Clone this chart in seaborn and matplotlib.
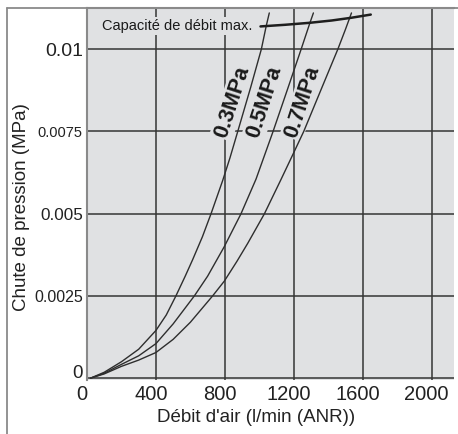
import numpy as np
import pandas as pd
import matplotlib
matplotlib.use('Agg')
import matplotlib.pyplot as plt
import matplotlib.transforms as mtransforms
from matplotlib.lines import Line2D
import seaborn as sns

# values
x_ticks = [0, 400, 800, 1200, 1600, 2000]
y_ticks = [0, 0.0025, 0.005, 0.0075, 0.01]
y_tick_labels = ['0', '0.0025', '0.005', '0.0075', '0.01']
y_tick_sizes = [13.5, 11.5, 12.3, 10.5, 14]

flow_03 = [20, 100, 200, 300, 400, 460, 516, 570, 613, 670, 720, 787, 830, 875, 950, 1012, 1040, 1058]
drop_03 = [0, 0.00018, 0.0005, 0.00088, 0.00145, 0.00192, 0.0025, 0.0031, 0.0036, 0.0043, 0.005,
           0.006, 0.0067, 0.0075, 0.00884, 0.01, 0.0107, 0.0111]

flow_05 = [20, 100, 200, 300, 400, 500, 623, 700, 797, 894, 981, 1080, 1165, 1243, 1292, 1314]
drop_05 = [0, 0.00015, 0.00042, 0.00068, 0.00105, 0.00165, 0.0025, 0.0031, 0.004, 0.005, 0.00605,
           0.0075, 0.0088, 0.01, 0.01077, 0.0111]

flow_07 = [20, 100, 200, 300, 400, 500, 600, 729, 797, 870, 933, 1030, 1127, 1195, 1258, 1360,
           1456, 1500, 1535]
drop_07 = [0, 0.00013, 0.00036, 0.00055, 0.00078, 0.00118, 0.0017, 0.0025, 0.00295, 0.00355,
           0.0041, 0.005, 0.00605, 0.0068, 0.0075, 0.00879, 0.01, 0.0106, 0.0111]

max_flow = [1007, 1150, 1292, 1420, 1530, 1647]
max_drop = [0.01069, 0.01074, 0.0108, 0.01087, 0.01095, 0.01105]

pressures = ['0.3MPa', '0.5MPa', '0.7MPa']
label_x = [843, 1030, 1251]
label_y = [0.0084, 0.0084, 0.0084]

BG = '#e0e1e3'

sns.set_style('white')
plt.rcParams['font.family'] = ['Liberation Sans', 'DejaVu Sans']

df = pd.concat([
    pd.DataFrame({'flow': flow_03, 'drop': drop_03, 'pressure': pressures[0]}),
    pd.DataFrame({'flow': flow_05, 'drop': drop_05, 'pressure': pressures[1]}),
    pd.DataFrame({'flow': flow_07, 'drop': drop_07, 'pressure': pressures[2]}),
])

fig = plt.figure(figsize=(4.58, 4.34), dpi=100)
ax = fig.add_axes([87 / 458, 1 - 379.5 / 434, 367 / 458, 371.5 / 434])
ax.set_facecolor(BG)

sns.lineplot(data=df, x='flow', y='drop', hue='pressure', palette=['#2e2e2e'] * 3,
             estimator=None, sort=False, legend=False, lw=1.0, ax=ax, zorder=3)
sns.lineplot(x=max_flow, y=max_drop, color='#1e1e1e', lw=1.8, ax=ax, zorder=3)

for lab, lx, ly in zip(pressures, label_x, label_y):
    ax.text(lx, ly, lab, rotation=72, rotation_mode='anchor', ha='center', va='center',
            fontsize=15.5, fontweight='bold', color='#1a1a1a', zorder=2,
            bbox=dict(facecolor=BG, edgecolor='none', pad=1.0))

ax.text(87, 0.0107, 'Capacité de débit max.', ha='left', va='center', fontsize=10.5,
        color='#1a1a1a', zorder=2, bbox=dict(facecolor=BG, edgecolor='none', pad=1.5))

ax.set_xlim(0, 2130)
ax.set_ylim(-0.00004, 0.01125)
ax.set_xticks(x_ticks)
ax.set_xticklabels([str(v) for v in x_ticks], fontsize=14.5)
ax.set_yticks(y_ticks)
ax.set_yticklabels(y_tick_labels)
for t, s in zip(ax.get_yticklabels(), y_tick_sizes):
    t.set_fontsize(s)
ax.tick_params(axis='both', length=0, colors='#222222')
ax.tick_params(axis='x', pad=4)
ax.tick_params(axis='y', pad=3)
shift = mtransforms.ScaledTranslation(-5 / 100, 0, fig.dpi_scale_trans)
for t in ax.get_xticklabels():
    t.set_transform(t.get_transform() + shift)
# the y "0" sits just above the zero line
lift = mtransforms.ScaledTranslation(0, 7 / 100, fig.dpi_scale_trans)
zero_lab = ax.get_yticklabels()[0]
zero_lab.set_transform(zero_lab.get_transform() + lift)

ax.grid(True, color='#353535', lw=1.1)
ax.set_axisbelow(True)

for side in ['right', 'bottom']:
    ax.spines[side].set_visible(False)
for side in ['left', 'top']:
    ax.spines[side].set_color('#8a8a8a')
    ax.spines[side].set_linewidth(1.5)

ax.set_xlabel("Débit d'air (l/min (ANR))", fontsize=13.5, color='#222222')
ax.xaxis.set_label_coords((256 - 87) / 367, -(418 - 379.5) / 371.5)
ax.xaxis.label.set_va('center')
ax.set_ylabel('Chute de pression (MPa)', fontsize=13.5, color='#222222')
ax.yaxis.set_label_coords((22 - 87) / 367, (379.5 - 207) / 371.5)
ax.yaxis.label.set_va('center')
ax.yaxis.label.set_rotation_mode('anchor')

# outer frame of the figure
fig.add_artist(Line2D([7 / 458, 7 / 458], [0, 1 - 8 / 434], transform=fig.transFigure,
                      color='#8a8a8a', lw=1.3))
fig.add_artist(Line2D([7 / 458, 1], [1 - 8 / 434, 1 - 8 / 434], transform=fig.transFigure,
                      color='#8a8a8a', lw=1.3))

fig.savefig('out.png', dpi=100)
